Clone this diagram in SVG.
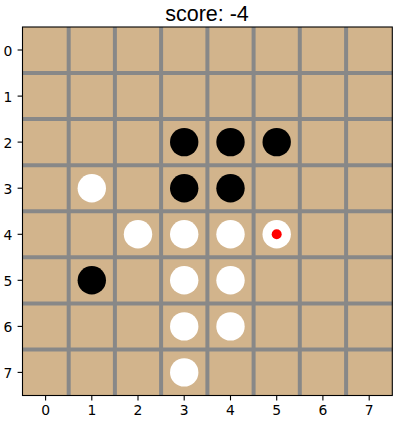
<svg xmlns="http://www.w3.org/2000/svg" width="407" height="424" viewBox="0 0 407 424">
<style>
.grid{stroke:#888888;stroke-width:4}
.tick{stroke:#000;stroke-width:1.1}
.lbl{font-family:"DejaVu Sans",sans-serif;font-size:13.9px;fill:#000}
.b{fill:#000}
.w{fill:#fff}
</style>
<rect width="407" height="424" fill="#fff"/>
<text x="207" y="20.5" text-anchor="middle" style="font-family:'Liberation Sans',Arial,sans-serif;font-size:21.5px">score: -4</text>
<rect x="22.5" y="27" width="369.8" height="368.5" fill="#d2b48c"/>
<g id="grid">
<line class="grid" x1="68.7" y1="27" x2="68.7" y2="395.5"/>
<line class="grid" x1="114.9" y1="27" x2="114.9" y2="395.5"/>
<line class="grid" x1="161.1" y1="27" x2="161.1" y2="395.5"/>
<line class="grid" x1="207.4" y1="27" x2="207.4" y2="395.5"/>
<line class="grid" x1="253.6" y1="27" x2="253.6" y2="395.5"/>
<line class="grid" x1="299.8" y1="27" x2="299.8" y2="395.5"/>
<line class="grid" x1="346.1" y1="27" x2="346.1" y2="395.5"/>
<line class="grid" x1="22.5" y1="73.1" x2="392.3" y2="73.1"/>
<line class="grid" x1="22.5" y1="119.1" x2="392.3" y2="119.1"/>
<line class="grid" x1="22.5" y1="165.2" x2="392.3" y2="165.2"/>
<line class="grid" x1="22.5" y1="211.3" x2="392.3" y2="211.3"/>
<line class="grid" x1="22.5" y1="257.3" x2="392.3" y2="257.3"/>
<line class="grid" x1="22.5" y1="303.4" x2="392.3" y2="303.4"/>
<line class="grid" x1="22.5" y1="349.4" x2="392.3" y2="349.4"/>
</g>
<g id="pieces">
<g id="b-2-3"><circle class="b" cx="184.2" cy="142.1" r="14.2"/></g>
<g id="b-2-4"><circle class="b" cx="230.5" cy="142.1" r="14.2"/></g>
<g id="b-2-5"><circle class="b" cx="276.7" cy="142.1" r="14.2"/></g>
<g id="w-3-1"><circle class="w" cx="91.8" cy="188.2" r="14.2"/></g>
<g id="b-3-3"><circle class="b" cx="184.2" cy="188.2" r="14.2"/></g>
<g id="b-3-4"><circle class="b" cx="230.5" cy="188.2" r="14.2"/></g>
<g id="w-4-2"><circle class="w" cx="138" cy="234.3" r="14.2"/></g>
<g id="w-4-3"><circle class="w" cx="184.2" cy="234.3" r="14.2"/></g>
<g id="w-4-4"><circle class="w" cx="230.5" cy="234.3" r="14.2"/></g>
<g id="w-4-5"><circle class="w" cx="276.7" cy="234.3" r="14.2"/><circle cx="276.7" cy="234.3" r="5" fill="#ff0000"/></g>
<g id="b-5-1"><circle class="b" cx="91.8" cy="280.3" r="14.2"/></g>
<g id="w-5-3"><circle class="w" cx="184.2" cy="280.3" r="14.2"/></g>
<g id="w-5-4"><circle class="w" cx="230.5" cy="280.3" r="14.2"/></g>
<g id="w-6-3"><circle class="w" cx="184.2" cy="326.4" r="14.2"/></g>
<g id="w-6-4"><circle class="w" cx="230.5" cy="326.4" r="14.2"/></g>
<g id="w-7-3"><circle class="w" cx="184.2" cy="372.4" r="14.2"/></g>
</g>
<rect x="22.5" y="27" width="369.8" height="368.5" fill="none" stroke="#000" stroke-width="1.1"/>
<g id="ticks">
<line class="tick" x1="45.6" y1="395.5" x2="45.6" y2="400.4"/>
<line class="tick" x1="91.8" y1="395.5" x2="91.8" y2="400.4"/>
<line class="tick" x1="138" y1="395.5" x2="138" y2="400.4"/>
<line class="tick" x1="184.2" y1="395.5" x2="184.2" y2="400.4"/>
<line class="tick" x1="230.5" y1="395.5" x2="230.5" y2="400.4"/>
<line class="tick" x1="276.7" y1="395.5" x2="276.7" y2="400.4"/>
<line class="tick" x1="322.9" y1="395.5" x2="322.9" y2="400.4"/>
<line class="tick" x1="369.2" y1="395.5" x2="369.2" y2="400.4"/>
<line class="tick" x1="17.6" y1="50" x2="22.5" y2="50"/>
<line class="tick" x1="17.6" y1="96.1" x2="22.5" y2="96.1"/>
<line class="tick" x1="17.6" y1="142.1" x2="22.5" y2="142.1"/>
<line class="tick" x1="17.6" y1="188.2" x2="22.5" y2="188.2"/>
<line class="tick" x1="17.6" y1="234.3" x2="22.5" y2="234.3"/>
<line class="tick" x1="17.6" y1="280.3" x2="22.5" y2="280.3"/>
<line class="tick" x1="17.6" y1="326.4" x2="22.5" y2="326.4"/>
<line class="tick" x1="17.6" y1="372.4" x2="22.5" y2="372.4"/>
</g>
<g id="xlabels" class="lbl" text-anchor="middle">
<text x="45.6" y="415">0</text>
<text x="91.8" y="415">1</text>
<text x="138" y="415">2</text>
<text x="184.2" y="415">3</text>
<text x="230.5" y="415">4</text>
<text x="276.7" y="415">5</text>
<text x="322.9" y="415">6</text>
<text x="369.2" y="415">7</text>
</g>
<g id="ylabels" class="lbl" text-anchor="end">
<text x="12.3" y="55.5">0</text>
<text x="12.3" y="101.6">1</text>
<text x="12.3" y="147.6">2</text>
<text x="12.3" y="193.7">3</text>
<text x="12.3" y="239.8">4</text>
<text x="12.3" y="285.8">5</text>
<text x="12.3" y="331.9">6</text>
<text x="12.3" y="377.9">7</text>
</g>
</svg>
